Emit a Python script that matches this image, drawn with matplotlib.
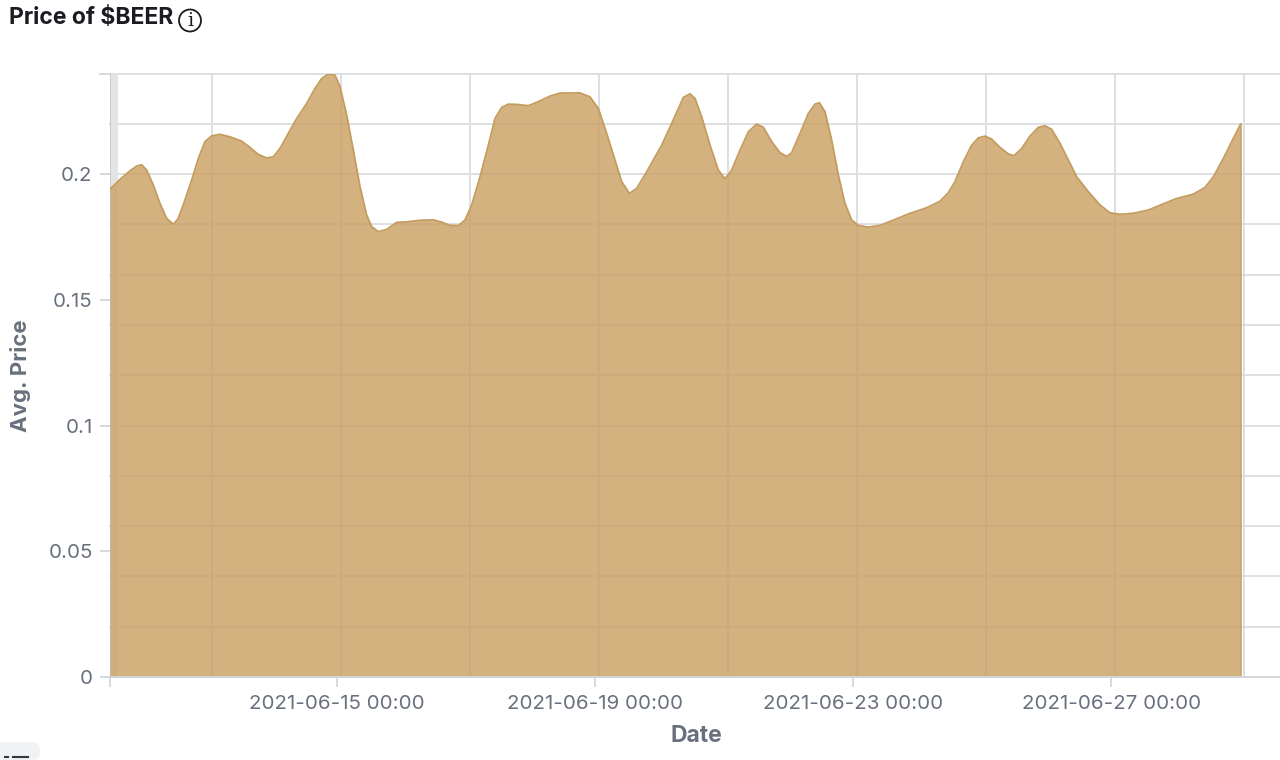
import numpy as np
import pandas as pd
import matplotlib
matplotlib.use('Agg')
from matplotlib import pyplot as plt
from matplotlib.patches import Ellipse, FancyBboxPatch
from matplotlib.lines import Line2D
import matplotlib.dates as mdates

plt.rcParams['font.family'] = ['Inter', 'DejaVu Sans']

# hours since the first sample
hours = [0.0, 3.72, 7.44, 9.92, 11.78, 13.64, 16.12, 18.6, 21.08, 23.56, 25.42, 27.9, 30.38, 32.86, 35.34,
         37.82, 40.92, 44.64, 48.98, 52.08, 55.18, 58.28, 60.76, 63.24, 66.34, 69.44, 73.16, 76.26, 78.74,
         81.22, 83.7, 85.56, 88.04, 90.52, 93.0, 95.48, 97.34, 99.82, 102.92, 106.64, 110.36, 115.32, 120.28,
         123.38, 126.48, 129.58, 132.06, 134.54, 137.64, 140.74, 143.22, 145.7, 148.18, 151.28, 155.62, 159.34,
         163.68, 167.4, 174.84, 178.56, 181.66, 184.76, 187.86, 190.34, 193.19, 195.92, 199.64, 205.22, 208.94,
         213.28, 215.76, 217.62, 220.1, 223.2, 226.3, 228.78, 231.26, 234.36, 237.46, 240.56, 243.04, 246.14,
         249.24, 251.72, 253.58, 256.68, 259.78, 262.26, 263.87, 265.98, 268.46, 270.94, 273.42, 275.9, 278.38,
         282.1, 286.44, 291.4, 297.6, 303.8, 308.76, 311.86, 314.34, 317.44, 320.54, 323.02, 325.5, 327.98,
         331.08, 334.18, 336.29, 339.14, 342.24, 345.34, 347.82, 350.3, 353.4, 356.5, 359.6, 363.94, 368.28,
         372.0, 375.72, 380.68, 386.26, 391.2, 396.8, 403.0, 407.34, 410.44, 414.16, 417.88, 420.6]
avg_price = [.1940, .1979, .2013, .2032, .2037, .2016, .1956, .1883, .1824, .1800, .1824, .1897, .1976, .2062, .2129,
             .2152, .2158, .2148, .2131, .2106, .2078, .2064, .2069, .2102, .2162, .2221, .2281, .2341, .2380,
             .2398, .2394, .2347, .2235, .2095, .1950, .1837, .1791, .1771, .1780, .1808, .1810, .1816, .1818,
             .1809, .1796, .1795, .1817, .1877, .1989, .2115, .2221, .2265, .2278, .2277, .2272, .2288,
             .2310, .2322, .2323, .2307, .2261, .2162, .2056, .1970, .1923, .1943, .2009, .2115, .2201,
             .2305, .2319, .2301, .2228, .2115, .2016, .1981, .2016, .2095, .2168, .2199, .2186, .2129,
             .2085, .2070, .2085, .2162, .2241, .2278, .2284, .2248, .2135, .1996, .1883, .1817, .1796,
             .1789, .1796, .1817, .1844, .1866, .1892, .1926, .1970, .2049, .2115, .2144, .2151, .2139,
             .2106, .2080, .2073, .2102, .2151, .2186, .2192, .2178, .2122, .2056, .1989, .1930, .1877,
             .1846, .1840, .1844, .1857, .1879, .1903, .1920, .1947, .1989, .2062, .2142, .2199]

start = pd.Timestamp('2021-06-11 11:30')
x_end = pd.Timestamp('2021-06-29 14:44')
date_ticks = ['2021-06-15 00:00', '2021-06-19 00:00', '2021-06-23 00:00', '2021-06-27 00:00']
price_ticks = [0, 0.05, 0.1, 0.15, 0.2]
price_labels = ['0', '0.05', '0.1', '0.15', '0.2']
price_grid = [0.02, 0.04, 0.06, 0.08, 0.1, 0.12, 0.14, 0.16, 0.18, 0.2, 0.22, 0.24]
date_grid = ['2021-06-13 01:24', '2021-06-15 01:24', '2021-06-17 01:24', '2021-06-19 01:24', '2021-06-21 01:24',
             '2021-06-23 01:24', '2021-06-25 01:24', '2021-06-27 01:24', '2021-06-29 01:24']

W, H = 1280, 760
text_col = '#69707D'
grid_col = '#DEDFE3'
axis_col = '#D3D5D9'

fig = plt.figure(figsize=(W / 100, H / 100), dpi=100)
ax = fig.add_axes([110 / W, 1 - 677 / H, (W - 110) / W, (677 - 73.5) / H])

times = start + pd.to_timedelta(hours, unit='h')
ax.fill_between(times, avg_price, 0, color='#CA9F60', alpha=0.8, lw=0, zorder=3)
ax.plot(times, avg_price, color='#C49C5E', lw=1.3, zorder=4)
# closing edge at the right side of the area
ax.plot([times[-1], times[-1]], [0, avg_price[-1]], color='#C9A56E', lw=1.2, zorder=4)

# the grid isn't aligned with the labelled ticks in the original
for y in price_grid:
    ax.axhline(y, color=grid_col, lw=1.4, zorder=1, clip_on=False)
for d in date_grid:
    ax.axvline(pd.Timestamp(d), color=grid_col, lw=1.4, zorder=1)
ax.axvspan(start, start + pd.Timedelta(hours=3), color='#E4E4E6', lw=0, zorder=1)
ax.axvline(start, color='#C8CAD0', lw=1.4, zorder=1)

ax.set_xlim(start, x_end)
ax.set_ylim(0, 0.24)
for s in ['top', 'left', 'right']:
    ax.spines[s].set_visible(False)
ax.spines['bottom'].set_color(axis_col)
ax.spines['bottom'].set_linewidth(1.4)
ax.spines['bottom'].set_zorder(5)

ax.set_xticks([mdates.date2num(start)] + [mdates.date2num(pd.Timestamp(d)) for d in date_ticks])
ax.set_xticklabels([''] + date_ticks)
ax.set_yticks(price_ticks)
ax.set_yticklabels(price_labels)
ax.tick_params(axis='both', length=7.5, width=1.3, color=axis_col, labelcolor=text_col, labelsize=14.8, pad=5.5)
ax.tick_params(axis='y', pad=5)
# stub on the top gridline, left of the plot
ax.add_line(Line2D([-10 / (W - 110), 0], [1, 1], transform=ax.transAxes, color=axis_col, lw=1.3, clip_on=False))

fig.text(696 / W, 1 - 735.5 / H, 'Date', color=text_col, fontsize=16.5, fontweight='bold', ha='center', va='center')
fig.text(21 / W, 1 - 376 / H, 'Avg. Price', color=text_col, fontsize=16, fontweight='bold', rotation=90,
         ha='center', va='center')
fig.text(9 / W, 1 - 18 / H, 'Price of $BEER', color='#1A1C21', fontsize=16.5, fontweight='bold', ha='left', va='center')

# info icon next to the title
fig.add_artist(Ellipse((190 / W, 1 - 20.5 / H), 22 / W, 22 / H, transform=fig.transFigure, fc='white',
                       ec='#1A1C21', lw=1.3))
fig.text(190 / W, 1 - 20.5 / H, 'i', color='#1A1C21', fontsize=14, family='DejaVu Serif', ha='center', va='center')

# leftover button in the bottom corner
fig.add_artist(FancyBboxPatch((-10 / W, 0), 50 / W, 18 / H, boxstyle='round,pad=0,rounding_size=0.006',
                              transform=fig.transFigure, fc='#F1F2F4', ec='none', mutation_aspect=1.7))
fig.add_artist(Line2D([5 / W, 8 / W], [3.5 / H, 3.5 / H], color='#343741', lw=1.5))
fig.add_artist(Line2D([13 / W, 28 / W], [3.5 / H, 3.5 / H], color='#343741', lw=1.5))

fig.savefig('out.png', dpi=100)
